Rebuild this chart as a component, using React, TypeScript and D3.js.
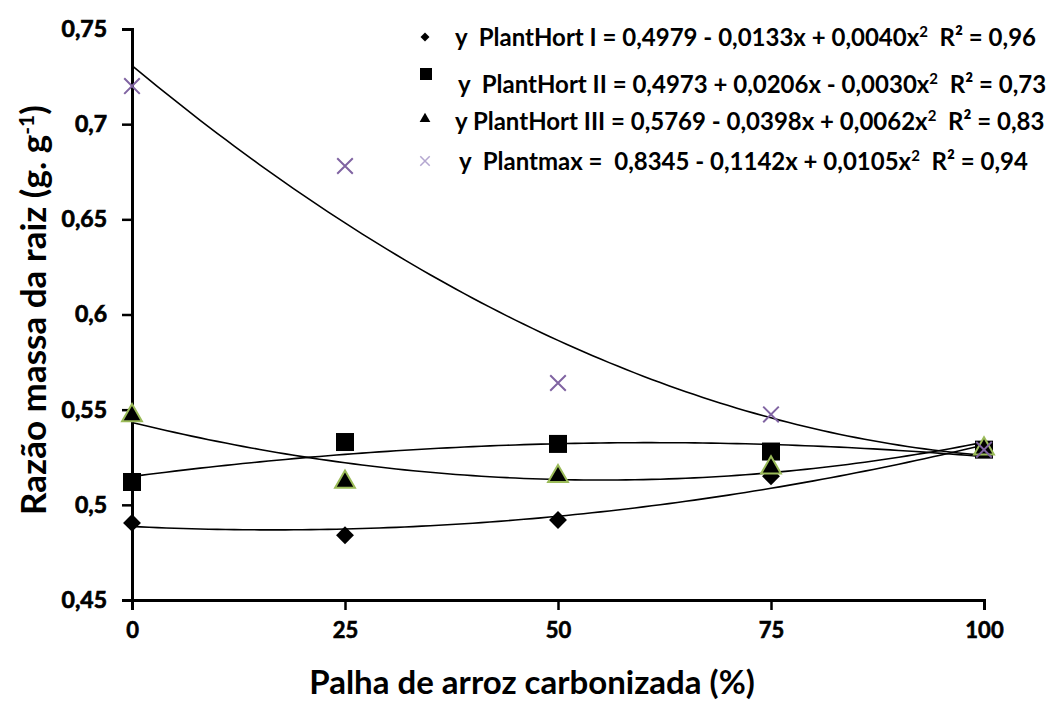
import React, { useRef, useEffect } from 'react';
import * as d3 from 'd3';

const levels = [0, 25, 50, 75, 100];
const yTicks = [0.45, 0.5, 0.55, 0.6, 0.65, 0.7, 0.75];
const yTickLabels = ['0,45', '0,5', '0,55', '0,6', '0,65', '0,7', '0,75'];

const hortI = [0.4905, 0.484, 0.492, 0.515, 0.530];
const hortII = [0.512, 0.533, 0.532, 0.528, 0.529];
const hortIII = [0.5475, 0.5125, 0.5155, 0.520, 0.530];
const plantmax = [0.720, 0.678, 0.564, 0.5475, 0.529];

// quadratic trend coefficients (x = treatment index 1..5)
const coefI = [0.4979, -0.0133, 0.0040];
const coefII = [0.4973, 0.0206, -0.0030];
const coefIII = [0.5769, -0.0398, 0.0062];
const coefMax = [0.8345, -0.1142, 0.0105];

const legendLabels = [
  ['y  PlantHort I = 0,4979 - 0,0133x + 0,0040x', '  R² = 0,96'],
  ['y  PlantHort II = 0,4973 + 0,0206x - 0,0030x', '  R² = 0,73'],
  ['y PlantHort III = 0,5769 - 0,0398x + 0,0062x', '  R² = 0,83'],
  ['y  Plantmax =  0,8345 - 0,1142x + 0,0105x', '  R² = 0,94'],
];

const App = () => {
  const svgRef = useRef<SVGSVGElement>(null);
  const width = 1049;
  const height = 705;

  useEffect(() => {
    const svg = d3.select(svgRef.current);
    svg.selectAll('*').remove();

    const x = d3.scaleLinear().domain([0, 100]).range([132, 984]);
    const y = d3.scaleLinear().domain([0.45, 0.75]).range([600, 29]);
    const bold = 'Lato, "Open Sans", sans-serif';

    // axes
    const yAxis = svg.append('g').attr('transform', `translate(${x(0)},0)`)
      .call(d3.axisLeft(y).tickValues(yTicks).tickSize(10).tickFormat((d, i) => yTickLabels[i]));
    yAxis.select('.domain').attr('stroke', '#000').attr('stroke-width', 3);
    yAxis.selectAll('.tick line').attr('stroke-width', 2.5);
    yAxis.selectAll('.tick text')
      .attr('x', -25)
      .style('font-family', bold)
      .style('font-weight', 'bold')
      .style('font-size', '23px')
      .attr('fill', '#000')
      .attr('stroke', '#000')
      .attr('stroke-width', 0.7);

    const xAxis = svg.append('g').attr('transform', `translate(0,${y(0.45)})`)
      .call(d3.axisBottom(x).tickValues(levels).tickSize(10).tickFormat(d3.format('d')));
    xAxis.select('.domain').attr('stroke', '#000').attr('stroke-width', 3);
    xAxis.selectAll('.tick line').attr('stroke-width', 2.5);
    xAxis.selectAll('.tick text')
      .attr('y', 22)
      .style('font-family', bold)
      .style('font-weight', 'bold')
      .style('font-size', '22px')
      .attr('fill', '#000')
      .attr('stroke', '#000')
      .attr('stroke-width', 0.6);

    // axis titles
    svg.append('text')
      .attr('x', 532)
      .attr('y', 694)
      .attr('text-anchor', 'middle')
      .attr('font-family', bold)
      .attr('font-weight', 'bold')
      .attr('font-size', 33)
      .text('Palha de arroz carbonizada (%)');

    const yt = svg.append('text')
      .attr('transform', 'translate(46,310) rotate(-90)')
      .attr('text-anchor', 'middle')
      .attr('font-family', bold)
      .attr('font-weight', 'bold')
      .attr('font-size', 35);
    yt.append('tspan').text('Razão massa da raiz (g. g');
    yt.append('tspan').attr('baseline-shift', 'super').attr('font-size', 21).text('-1');
    yt.append('tspan').text(')');

    // trend lines
    const trend = (c: number[]) => d3.range(0, 100.5, 1).map(p => {
      const t = 1 + p / 25;
      return [p, c[0] + c[1] * t + c[2] * t * t];
    });
    const line = d3.line<number[]>().x(d => x(d[0])).y(d => y(d[1]));
    [coefMax, coefIII, coefII, coefI].forEach(c => {
      svg.append('path')
        .attr('d', line(trend(c)))
        .attr('fill', 'none')
        .attr('stroke', '#000')
        .attr('stroke-width', 1.6);
    });

    // markers
    const diamond = d3.symbol().type(d3.symbolSquare).size(160);
    svg.selectAll('.p1').data(hortI).enter().append('path')
      .attr('d', diamond)
      .attr('transform', (d, i) => `translate(${x(levels[i])},${y(d)}) rotate(45)`)
      .attr('fill', '#000');

    svg.selectAll('.p2').data(hortII).enter().append('rect')
      .attr('x', (d, i) => x(levels[i]) - 9)
      .attr('y', d => y(d) - 9)
      .attr('width', 18)
      .attr('height', 18)
      .attr('fill', '#000');

    const tri = d3.symbol().type(d3.symbolTriangle).size(170);
    svg.selectAll('.p3').data(hortIII).enter().append('path')
      .attr('d', tri)
      .attr('transform', (d, i) => `translate(${x(levels[i])},${y(d) + 1})`)
      .attr('fill', '#000')
      .attr('stroke', '#9bbb59')
      .attr('stroke-width', 2);

    const cross = d3.symbol().type(d3.symbolX).size(160);
    svg.selectAll('.p4').data(plantmax).enter().append('path')
      .attr('d', cross)
      .attr('transform', (d, i) => `translate(${x(levels[i])},${y(d)})`)
      .attr('fill', 'none')
      .attr('stroke', '#8064a2')
      .attr('stroke-width', 2);

    // legend
    const rowsY = [46, 93, 130, 170];
    const lg = svg.append('g');
    lg.append('path').attr('d', d3.symbol().type(d3.symbolSquare).size(40))
      .attr('transform', `translate(425,37) rotate(45)`).attr('fill', '#000');
    lg.append('rect').attr('x', 420).attr('y', 68).attr('width', 12).attr('height', 12).attr('fill', '#000');
    lg.append('path').attr('d', d3.symbol().type(d3.symbolTriangle).size(50))
      .attr('transform', `translate(425,119)`).attr('fill', '#000');
    lg.append('path').attr('d', d3.symbol().type(d3.symbolX).size(60))
      .attr('transform', `translate(425,161)`)
      .attr('fill', 'none').attr('stroke', '#b4a7d0').attr('stroke-width', 1.5);

    const lx = [455, 458, 455, 459];
    legendLabels.forEach((l, i) => {
      const t = lg.append('text')
        .attr('x', lx[i])
        .attr('y', rowsY[i])
        .attr('font-family', bold)
        .attr('font-weight', 'bold')
        .attr('font-size', 24)
        .style('white-space', 'pre');
      t.append('tspan').text(l[0]);
      t.append('tspan').attr('baseline-shift', 'super').attr('font-size', 15).text('2');
      t.append('tspan').text(l[1]);
    });
  }, []);

  return (
    <svg ref={svgRef} width={width} height={height}
      style={{ position: 'absolute', left: 0, top: 0, background: '#fff' }} />
  );
};

export default App;
